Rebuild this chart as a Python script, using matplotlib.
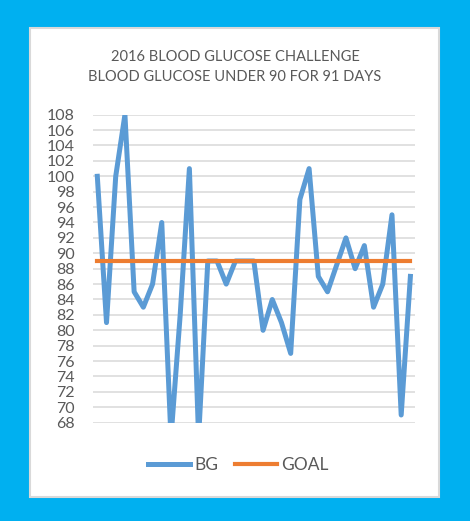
import numpy as np
import matplotlib.pyplot as plt
from matplotlib.patches import Rectangle

plt.rcParams['font.family'] = ['Lato', 'DejaVu Sans']

# daily blood glucose readings (values below 68 are clipped by the axis)
days = np.arange(35)
bg = [100, 81, 100, 108, 85, 83, 86, 94, 66, 82, 101, 66, 89, 89, 86, 89, 89, 89,
      80, 84, 81, 77, 97, 101, 87, 85, 88.5, 92, 88, 91, 83, 86, 95, 69, 87]
goal = [89] * len(bg)
yticks = list(range(68, 110, 2))

W, H = 470, 521
fig = plt.figure(figsize=(W / 100, H / 100), dpi=100)
fig.patch.set_facecolor("#00B0F0")

# white chart card
fig.patches.append(Rectangle((30 / W, 1 - 497 / H), 409 / W, 469 / H,
                             transform=fig.transFigure, facecolor="white",
                             edgecolor="#D9D9D9", linewidth=1.5, zorder=-10))

ax = fig.add_axes([92.7 / W, 1 - 422.7 / H, (415 - 92.7) / W, (422.7 - 114.7) / H])
ax.set_facecolor("none")
ax.plot(days, bg, color="#5B9BD5", linewidth=3.6, label="BG", zorder=3)
ax.plot(days, goal, color="#ED7D31", linewidth=3.0, label="GOAL", zorder=4)

ax.set_xlim(-0.5, len(bg) - 0.5)
ax.set_ylim(68, 108)
ax.set_yticks(yticks)
ax.set_xticks([])
ax.tick_params(axis="y", length=0, pad=13, labelsize=11.5, labelcolor="#595959")
ax.grid(axis="y", color="#D9D9D9", linewidth=1.1)
ax.set_axisbelow(True)
for s in ax.spines.values():
    s.set_visible(False)

fig.text(0.5, 1 - 67 / H,
         "2016 BLOOD GLUCOSE CHALLENGE\nBLOOD GLUCOSE UNDER 90 FOR 91 DAYS",
         ha="center", va="center", fontsize=10.5, color="#595959", linespacing=1.6)

fig.legend(loc="center", bbox_to_anchor=(238.5 / W, 1 - 465 / H), ncol=2,
           frameon=False, fontsize=12.5, labelcolor="#595959",
           handlelength=2.4, handletextpad=0.25, columnspacing=1.0)

plt.savefig("out.png", dpi=100, facecolor=fig.get_facecolor())
plt.close()
